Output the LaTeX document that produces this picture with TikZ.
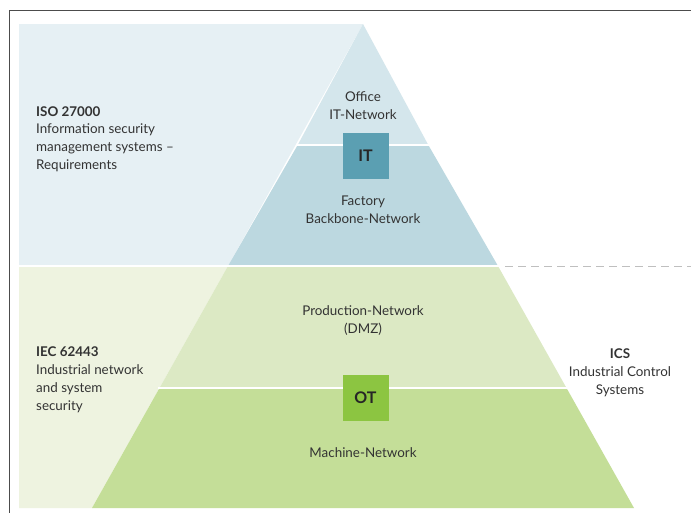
\documentclass[tikz,border=0pt]{standalone}
\usepackage{fontspec}
\setmainfont{Lato}
\begin{document}
\begin{tikzpicture}[x=1pt,y=-1pt,
  lbl/.style={font=\fontsize{13.4}{18}\selectfont, text=black!80, align=center, inner sep=0pt},
  side/.style={font=\fontsize{13.4}{18}\selectfont, text=black!80, align=left, inner sep=0pt, anchor=north west},
  tag/.style={font=\fontsize{16}{16}\selectfont\bfseries, text=black!85, minimum width=46pt, minimum height=46pt, inner sep=0pt},
  sep/.style={white, line width=2pt}]
\definecolor{bgblue}{HTML}{E6F0F4}
\definecolor{offblue}{HTML}{D4E6EC}
\definecolor{facblue}{HTML}{BCD8E0}
\definecolor{itbox}{HTML}{5B9FB2}
\definecolor{bggreen}{HTML}{EEF3E0}
\definecolor{prodgreen}{HTML}{DCE9C4}
\definecolor{machgreen}{HTML}{C4DE98}
\definecolor{otbox}{HTML}{8CC541}
\useasboundingbox (0,0) rectangle (691,512);
\fill[white] (0,0) rectangle (691,512);
% frame
\draw[black!70, line width=1pt] (9,700) -- (9,10) -- (800,10);
% backgrounds
\fill[bgblue] (19,24) -- (363,24) -- (228,266) -- (19,266) -- cycle;
\fill[bggreen] (19,266) -- (228,266) -- (92,508) -- (19,508) -- cycle;
% pyramid bands
\fill[offblue] (363,24) -- (428.3,145) -- (297.7,145) -- cycle;
\fill[facblue] (297.7,145) -- (428.3,145) -- (498,266) -- (228,266) -- cycle;
\fill[prodgreen] (228,266) -- (498,266) -- (566.5,388) -- (159.5,388) -- cycle;
\fill[machgreen] (159.5,388) -- (566.5,388) -- (634,508) -- (92,508) -- cycle;
% separators
\draw[sep] (19,266) -- (500,266);
\draw[sep] (296,145) -- (430,145);
\draw[sep] (158,388) -- (568,388);
\draw[black!25, dash pattern=on 8pt off 5pt, line width=1pt] (505,266) -- (691,266);
% tags
\node[tag, fill=itbox] (it) at (365.5,155.5) {IT};
\node[tag, fill=otbox] (ot) at (365.5,397.5) {OT};
% labels
\node[lbl] (office) at (363,106) {Office\\IT-Network};
\node[lbl] (factory) at (363,210) {Factory\\Backbone-Network};
\node[lbl] (prod) at (363,321) {Production-Network\\(DMZ)};
\node[lbl] (mach) at (363,453) {Machine-Network};
\node[lbl] (ics) at (620,373) {\textbf{ICS}\\Industrial Control\\Systems};
\node[side] (iso) at (36,106) {\textbf{ISO 27000}\\Information security\\management systems --\\Requirements};
\node[side] (iec) at (36,346) {\textbf{IEC 62443}\\Industrial network\\and system\\security};
\end{tikzpicture}
\end{document}
